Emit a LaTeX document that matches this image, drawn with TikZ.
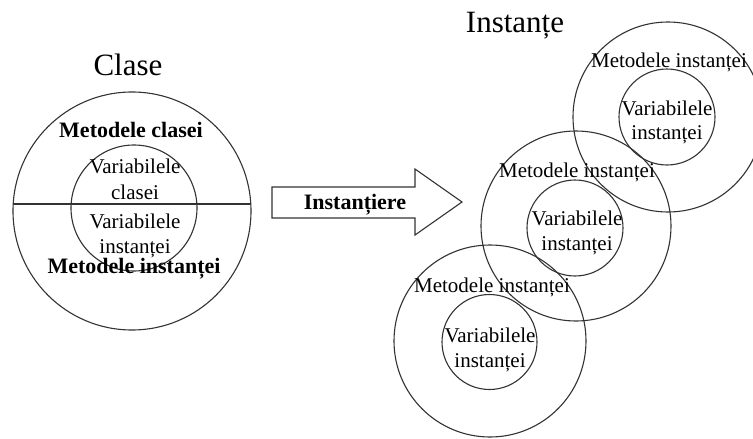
\documentclass[tikz,border=0pt]{standalone}
\usepackage{fontspec}
\setmainfont{Liberation Serif}
\begin{document}
\begin{tikzpicture}[x=1pt,y=-1pt,
  ring/.style={circle,draw=black!80,line width=1.1pt,inner sep=0pt,outer sep=0pt},
  title/.style={font=\fontsize{31}{36}\selectfont,anchor=base,inner sep=0pt},
  lbl/.style={font=\fontsize{21}{25}\selectfont,anchor=base,inner sep=0pt},
  blbl/.style={font=\fontsize{22}{26}\selectfont\bfseries,anchor=base,inner sep=0pt}]
\useasboundingbox[fill=white] (0,0) rectangle (753,439);

% class: outer and inner rings, split by a horizontal chord
\node[ring,minimum size=238pt] (clsOut) at (132,211) {};
\node[ring,minimum size=126pt] (clsIn) at (134,208) {};
\coordinate (chordL) at (13,204);
\coordinate (chordR) at (251,204);
\draw[draw=black!80,line width=1.1pt] (chordL) -- (chordR);

\node[title] (tCls) at (128,75) {Clase};
\node[blbl] (mCls) at (131,137) {Metodele clasei};
\node[lbl] (vCls1) at (135,173) {Variabilele};
\node[lbl] (vCls2) at (135,199) {clasei};
\node[lbl] (vIns1) at (135,228) {Variabilele};
\node[lbl] (vIns2) at (135,253) {instanței};
\node[blbl] (mIns) at (134,273) {Metodele instanței};

% block arrow
\draw[draw=black!80,line width=1.1pt,fill=white]
  (272,187) -- (415,187) -- (415,169) -- (462,202) -- (415,235) -- (415,218) -- (272,218) -- cycle;
\node[blbl] (inst) at (355,209) {Instanțiere};

% instances
\node[title] (tInst) at (515,32) {Instanțe};

\node[ring,minimum size=190pt] (aOut) at (668,117) {};
\node[ring,minimum size=96pt] (aIn) at (667,117) {};
\node[lbl] (aM) at (669,67) {Metodele instanței};
\node[lbl] (aV1) at (667,115) {Variabilele};
\node[lbl] (aV2) at (667,139) {instanței};

\node[ring,minimum size=190pt] (bOut) at (576,226) {};
\node[ring,minimum size=96pt] (bIn) at (575,228) {};
\node[lbl] (bM) at (577,177) {Metodele instanței};
\node[lbl] (bV1) at (577,225) {Variabilele};
\node[lbl] (bV2) at (577,250) {instanței};

\node[ring,minimum size=192pt] (cOut) at (490,341) {};
\node[ring,minimum size=95pt] (cIn) at (489.5,342) {};
\node[lbl] (cM) at (492,292) {Metodele instanței};
\node[lbl] (cV1) at (490,342) {Variabilele};
\node[lbl] (cV2) at (490,367) {instanței};
\end{tikzpicture}
\end{document}
